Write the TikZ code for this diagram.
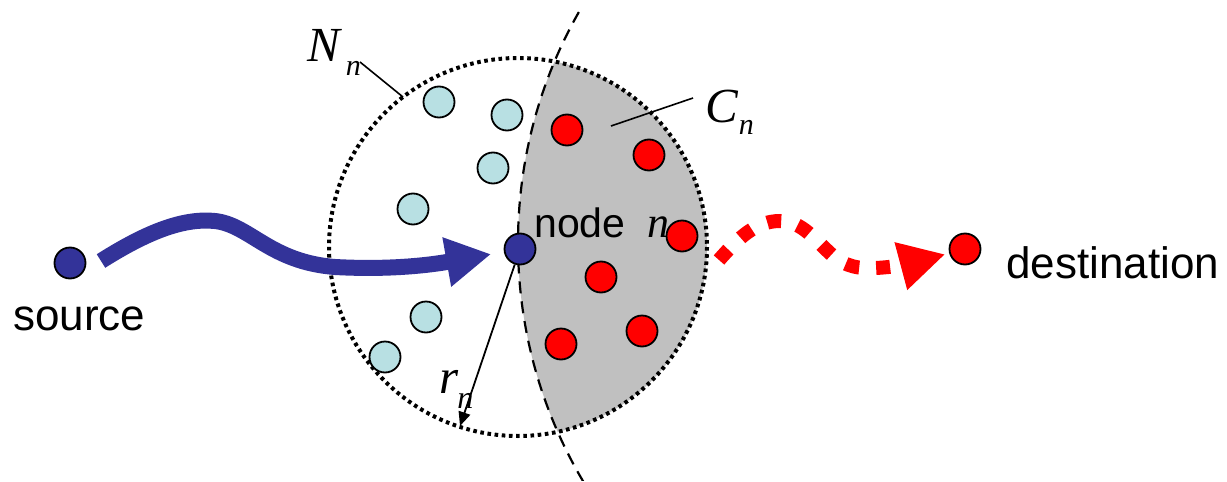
\documentclass[tikz,border=0pt]{standalone}
\usepackage{fontspec}
\setmainfont{Liberation Sans}
\newfontfamily\varfont{Liberation Serif}
\usetikzlibrary{arrows.meta,backgrounds}

\definecolor{hostblue}{HTML}{333399}
\definecolor{nbrblue}{HTML}{B8E0E3}
\definecolor{fwdred}{HTML}{FF0000}
\definecolor{zonegray}{HTML}{C0C0C0}

\tikzset{
  basedisc/.style={circle,draw=black,line width=1.8pt,minimum size=31pt,inner sep=0pt},
  hostdisc/.style={basedisc,fill=hostblue},
  nbrdisc/.style={basedisc,fill=nbrblue},
  fwddisc/.style={basedisc,fill=fwdred},
  wordlbl/.style={inner sep=0pt,anchor=base west,font=\fontsize{44}{48}\selectfont},
  symlbl/.style={inner sep=0pt,anchor=base west,font=\varfont\itshape\fontsize{49}{52}\selectfont},
  leaderline/.style={draw=black,line width=1.6pt},
  radiusarrow/.style={draw=black,line width=1.8pt,-{Triangle[length=14pt,width=12pt]}},
  nbhdrim/.style={draw=black,line width=4pt,dash pattern=on 3.6pt off 3.6pt},
  splitline/.style={draw=black,line width=2.2pt,dash pattern=on 12pt off 8pt},
  inflow/.style={draw=hostblue,line width=16pt,-{Triangle[length=45pt,width=47pt]}},
  relaypath/.style={draw=fwdred,line width=14pt,dash pattern=on 14pt off 17pt,
                -{Triangle[length=46pt,width=46pt]}},
}

\begin{document}
\begin{tikzpicture}[x=1pt,y=-1pt]
\useasboundingbox (0,0) rectangle (1227,482);

% reference points
\coordinate (nbhd) at (518,247);   % centre of the neighbourhood circle
\coordinate (arcc) at (986,243);   % centre of the dividing arc
\coordinate (b0)   at (101,261);   % tail of the incoming flow
\coordinate (r0)   at (719,260);   % tail of the forwarding path
\coordinate (rtip) at (460,426);   % end of the radius arrow
\coordinate (nl0)  at (360,62);
\coordinate (nl1)  at (403,97);
\coordinate (cl0)  at (693,98);
\coordinate (cl1)  at (611,126);

% hosts
\node[hostdisc] (src) at (70,263) {};
\node[hostdisc] (n)   at (520,249) {};
\node[fwddisc]  (dst) at (965,249) {};

% neighbours outside the forwarding zone
\node[nbrdisc] (lb1) at (439,102) {};
\node[nbrdisc] (lb2) at (507,115) {};
\node[nbrdisc] (lb3) at (493,168) {};
\node[nbrdisc] (lb4) at (413,209) {};
\node[nbrdisc] (lb5) at (426,317) {};
\node[nbrdisc] (lb6) at (385,357) {};

% candidate forwarders
\node[fwddisc] (rd1) at (567,130) {};
\node[fwddisc] (rd2) at (649,155) {};
\node[fwddisc] (rd3) at (682,236) {};
\node[fwddisc] (rd4) at (601,277) {};
\node[fwddisc] (rd5) at (642,331) {};
\node[fwddisc] (rd6) at (561,344) {};

\begin{pgfonlayer}{background}
  % forwarding zone: neighbourhood cut by the dividing arc
  \begin{scope}
    \clip (arcc) circle[radius=468];
    \fill[zonegray] (nbhd) circle[radius=189];
  \end{scope}
  \draw[nbhdrim] (nbhd) circle[radius=189];
  \begin{scope}
    \clip (0,6) rectangle (700,480);
    \draw[splitline] (arcc) circle[radius=468];
  \end{scope}

  % labels
  \node[wordlbl] (srclbl) at (13,330) {source};
  \node[wordlbl] (dstlbl) at (1006,278) {destination};
  \node[inner sep=0pt,anchor=base west,font=\fontsize{41}{44}\selectfont] (nlbl) at (534,237)
    {node\hspace{22pt}{\varfont\itshape\fontsize{44}{46}\selectfont n}};
  \node[symlbl] (Nlab) at (307,61) {N\hspace{6pt}\raisebox{-14pt}{\fontsize{30}{32}\selectfont n}};
  \node[symlbl] (Clab) at (705,122) {C\hspace{1pt}\raisebox{-12pt}{\fontsize{30}{32}\selectfont n}};
  \node[symlbl] (rlab) at (439,393) {r\hspace{-1pt}\raisebox{-15pt}{\fontsize{32}{34}\selectfont n}};

  % leaders and radius
  \draw[leaderline] (nl0) -- (nl1);
  \draw[leaderline] (cl0) -- (cl1);
  \draw[radiusarrow] (n) -- (rtip);

  % incoming flow and forwarding path
  \draw[inflow,shorten >=13pt] (b0) .. controls (150,230) and (185,218) .. (215,221)
    .. controls (250,225) and (270,262) .. (335,267)
    .. controls (390,270) and (430,265) .. (n);
  \draw[relaypath,shorten >=4pt] (r0) .. controls (740,236) and (757,221) .. (780,221)
    .. controls (802,221) and (815,240) .. (832,255)
    .. controls (846,267) and (860,269) .. (875,268)
    .. controls (900,267) and (920,261) .. (dst);
\end{pgfonlayer}
\end{tikzpicture}
\end{document}
